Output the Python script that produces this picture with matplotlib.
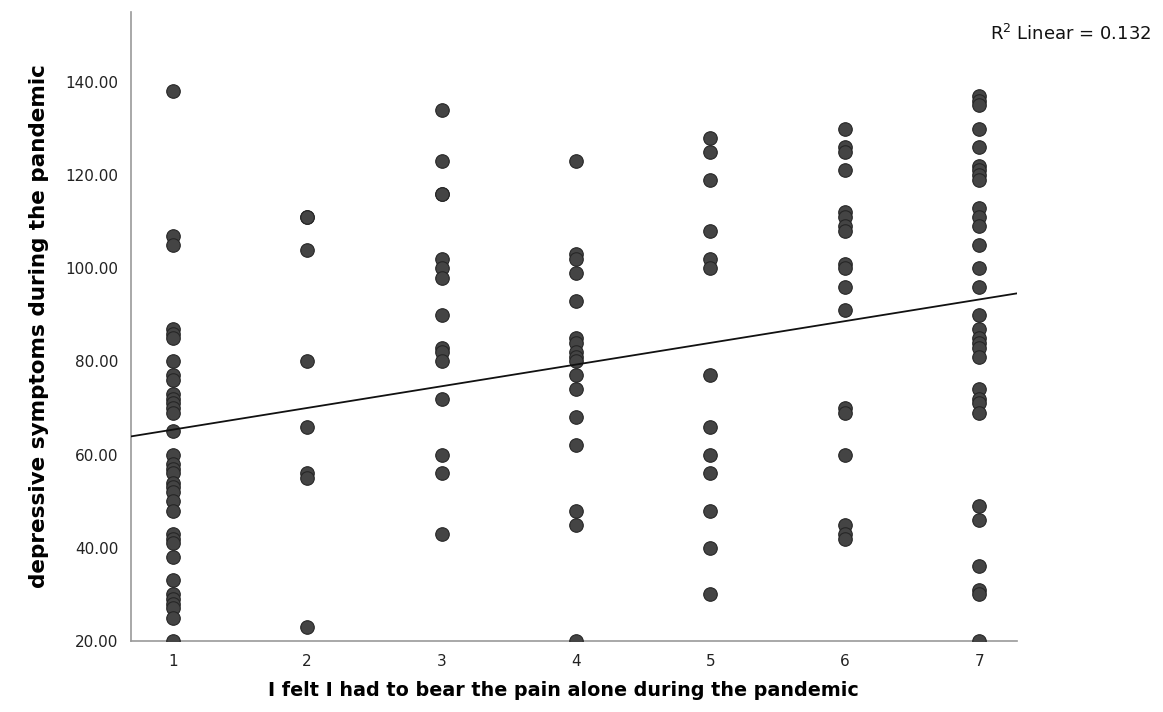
import numpy as np
import matplotlib
matplotlib.use("Agg")
import matplotlib.pyplot as plt

x_categories = [1, 2, 3, 4, 5, 6, 7]
x_tick_labels = ["1", "2", "3", "4", "5", "6", "7"]
y_ticks = [20, 40, 60, 80, 100, 120, 140]

col1 = [138, 107, 105, 87, 86, 85, 80, 77, 76, 73, 72, 71, 70, 69, 65, 60, 58, 57, 56,
        54, 53, 52, 50, 48, 43, 42, 41, 38, 33, 30, 29, 28, 27, 25, 20]
col2 = [111, 111, 104, 80, 66, 56, 55, 23]
col3 = [134, 123, 116, 116, 102, 100, 98, 90, 83, 82, 80, 72, 60, 56, 43]
col4 = [123, 103, 102, 99, 93, 85, 84, 82, 81, 80, 77, 74, 68, 62, 48, 45, 20]
col5 = [128, 125, 119, 108, 102, 100, 77, 66, 60, 56, 48, 40, 30]
col6 = [130, 126, 125, 121, 112, 111, 109, 108, 101, 100, 96, 91, 70, 69, 60, 45, 43, 42]
col7 = [137, 136, 135, 130, 126, 122, 121, 120, 119, 113, 111, 109, 105, 100, 96, 90,
        87, 85, 84, 83, 81, 74, 72, 71, 69, 49, 46, 36, 31, 30, 20]
columns = [col1, col2, col3, col4, col5, col6, col7]

r2_text = "R$^2$ Linear = 0.132"
x_label = "I felt I had to bear the pain alone during the pandemic"
y_label = "depressive symptoms during the pandemic"

xs = np.concatenate([[c] * len(v) for c, v in zip(x_categories, columns)])
ys = np.concatenate([np.array(v, dtype=float) for v in columns])

fig = plt.figure(figsize=(11.63, 7.12), dpi=100)
ax = fig.add_axes([0.1126, 0.0997, 0.8745 - 0.1126, 0.983 - 0.0997])

ax.scatter(xs, ys, s=95, c="#444444", edgecolors="#262626", linewidths=0.8, zorder=3)

xlim = (0.69, 7.28)
slope, intercept = np.polyfit(xs, ys, 1)
lx = np.array(xlim)
ax.plot(lx, intercept + slope * lx, color="#111111", lw=1.3, zorder=4)

ax.set_xlim(*xlim)
ax.set_ylim(20, 155)
ax.set_xticks(x_categories)
ax.set_xticklabels(x_tick_labels)
ax.set_yticks(y_ticks)
ax.set_yticklabels([f"{t:.2f}" for t in y_ticks])
ax.tick_params(axis="both", length=0, labelsize=11, colors="#222222", pad=9)
for s in ["top", "right"]:
    ax.spines[s].set_visible(False)
for s in ["left", "bottom"]:
    ax.spines[s].set_color("#999999")
    ax.spines[s].set_linewidth(1.2)

ax.set_xlabel(x_label, fontsize=13.8, fontweight="bold")
ax.xaxis.set_label_coords(0.4876, -0.064)
ax.set_ylabel(y_label, fontsize=15.5, fontweight="bold", labelpad=12)

fig.text(0.99, 0.953, r2_text, ha="right", va="center", fontsize=13, color="#111111")

fig.savefig("out.png", dpi=100, facecolor="white")
